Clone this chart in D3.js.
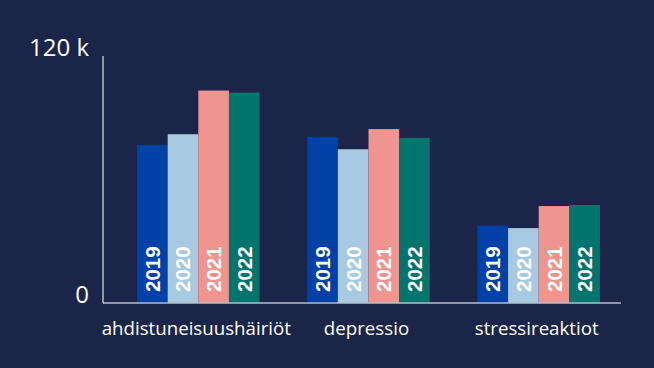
<!DOCTYPE html>
<meta charset="utf-8">
<script src="https://cdnjs.cloudflare.com/ajax/libs/d3/7.8.5/d3.min.js"></script>
<style>
  body { margin: 0; background: #1b2549; }
  svg { display: block; }
</style>
<body>
<script>

// data (thousands)
var categories = ["ahdistuneisuushäiriöt", "depressio", "stressireaktiot"];
var years = ["2019", "2020", "2021", "2022"];
var values2019 = [76.8, 80.7, 37.6];
var values2020 = [82.0, 74.7, 36.4];
var values2021 = [103.2, 84.5, 47.1];
var values2022 = [102.2, 80.2, 47.6];
var yTicks = [0, 120];
var yearColors = ["#0041a8", "#a7c9e1", "#f0948f", "#00756d"];

var series = [values2019, values2020, values2021, values2022];
var rows = [];
categories.forEach(function(c, i) {
  years.forEach(function(y, j) {
    rows.push({cat: c, year: y, value: series[j][i]});
  });
});

var W = 654, H = 368;
var plotLeft = 103, plotTop = 56, plotBottom = 303, axisEnd = 621;

var svg = d3.select("body").append("svg")
    .attr("width", W)
    .attr("height", H)
    .style("background", "#1b2549");

var x = d3.scaleBand()
  .domain(categories)
  .range([plotLeft, 634])
  .paddingInner(0.28)
  .paddingOuter(0.2);

var xYear = d3.scaleBand()
  .domain(years)
  .range([0, x.bandwidth()]);

var y = d3.scaleLinear()
  .domain([0, 120])
  .range([plotBottom, plotTop]);

var color = d3.scaleOrdinal().domain(years).range(yearColors);

// bars
var bars = svg.selectAll(".bar").data(rows).enter().append("g")
  .attr("class", "bar");

bars.append("rect")
  .attr("x", function(d) { return x(d.cat) + xYear(d.year); })
  .attr("y", function(d) { return y(d.value); })
  .attr("width", xYear.bandwidth())
  .attr("height", function(d) { return y(0) - y(d.value); })
  .attr("fill", function(d) { return color(d.year); });

bars.append("text")
  .attr("transform", function(d) {
    var cx = x(d.cat) + xYear(d.year) + xYear.bandwidth() / 2;
    return "translate(" + (cx + 7.5) + "," + (plotBottom - 11) + ") rotate(-90)";
  })
  .attr("fill", "#ffffff")
  .style("font-family", "'Liberation Sans', Arial, sans-serif")
  .style("font-weight", "bold")
  .style("font-size", "20.5px")
  .text(function(d) { return d.year; });

// axes lines
svg.append("line")
  .attr("x1", plotLeft).attr("x2", plotLeft)
  .attr("y1", plotTop).attr("y2", plotBottom)
  .attr("stroke", "#b8bccb").attr("stroke-width", 1.5);

svg.append("line")
  .attr("x1", plotLeft).attr("x2", axisEnd)
  .attr("y1", plotBottom).attr("y2", plotBottom)
  .attr("stroke", "#b8bccb").attr("stroke-width", 1.5);

// y tick labels
svg.selectAll(".ytick").data(yTicks).enter().append("text")
  .attr("class", "ytick")
  .attr("x", 89)
  .attr("y", function(d) { return y(d); })
  .attr("text-anchor", "end")
  .attr("fill", "#ffffff")
  .style("font-family", "'Open Sans', sans-serif")
  .style("font-size", "24px")
  .text(function(d) { return d === 0 ? "0" : d + " k"; });

// category labels
svg.selectAll(".xlab").data(categories).enter().append("text")
  .attr("class", "xlab")
  .attr("x", function(d) { return x(d) + x.bandwidth() / 2 - 2; })
  .attr("y", 335)
  .attr("text-anchor", "middle")
  .attr("fill", "#ffffff")
  .style("font-family", "'Open Sans', sans-serif")
  .style("font-size", "18.7px")
  .text(function(d) { return d; });

</script>
</body>
</html>
